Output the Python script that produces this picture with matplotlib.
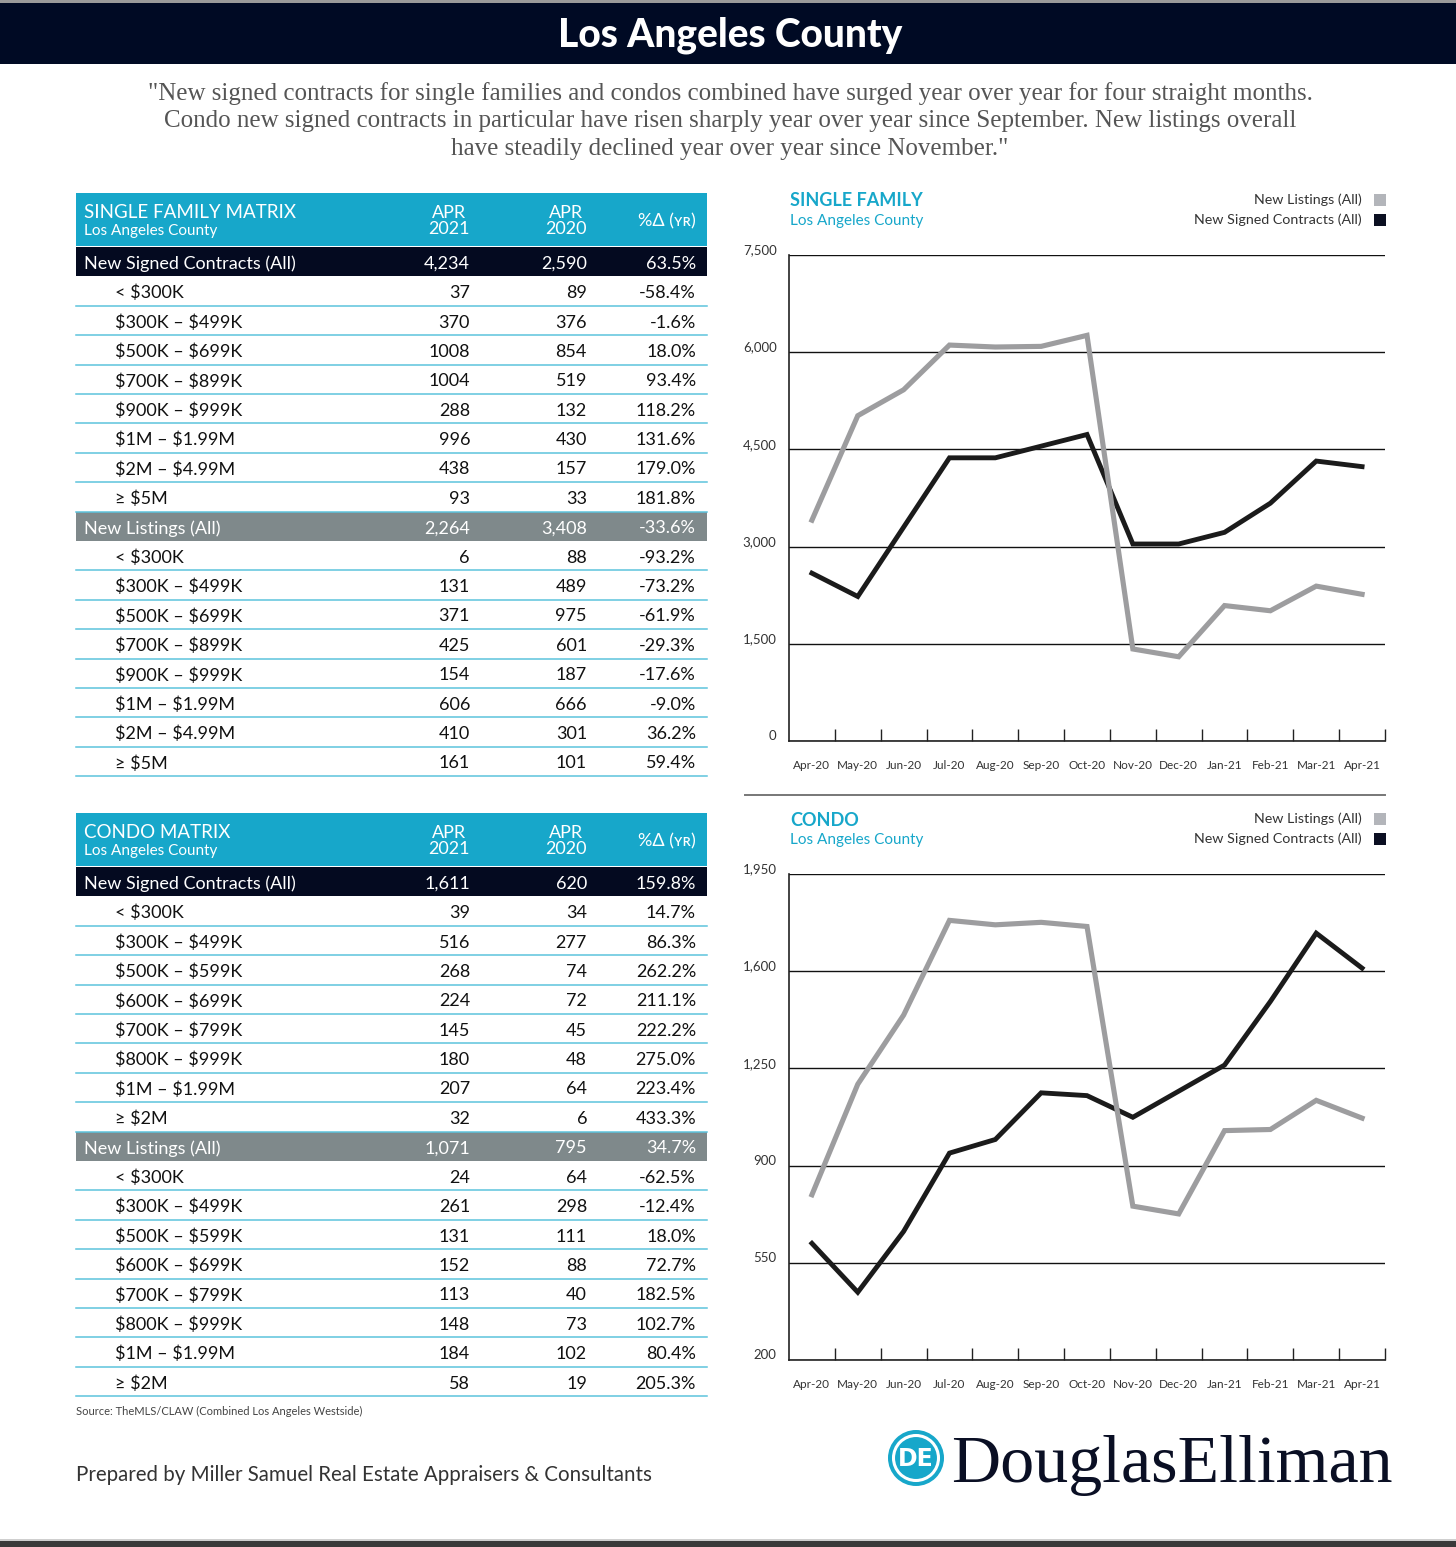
import matplotlib
matplotlib.use('Agg')
from matplotlib import pyplot as plt
import matplotlib.patches as mpatches
from matplotlib.transforms import ScaledTranslation

plt.rcParams['font.family'] = ['Lato', 'DejaVu Sans']

W, H = 1456, 1547
TEAL = '#17a7ca'
NAVY = '#040a20'
SLATE = '#7f898b'
RULE = '#5cc3dc'

# ---- chart data ----
months = ['Apr-20', 'May-20', 'Jun-20', 'Jul-20', 'Aug-20', 'Sep-20', 'Oct-20',
          'Nov-20', 'Dec-20', 'Jan-21', 'Feb-21', 'Mar-21', 'Apr-21']
sf_listings = [3408, 5020, 5420, 6110, 6080, 6090, 6260, 1420, 1300, 2090, 2010, 2390, 2264]
sf_contracts = [2590, 2230, 3300, 4370, 4370, 4550, 4730, 3040, 3040, 3220, 3670, 4320, 4234]
condo_listings = [795, 1193, 1442, 1783, 1767, 1776, 1761, 754, 726, 1026, 1030, 1135, 1071]
condo_contracts = [620, 444, 663, 945, 994, 1162, 1152, 1074, 1168, 1262, 1491, 1737, 1611]

# ---- table data ----
sf_ranges = ['< $300K', '$300K – $499K', '$500K – $699K', '$700K – $899K',
             '$900K – $999K', '$1M – $1.99M', '$2M – $4.99M', '≥ $5M']
sf_con_2021 = [37, 370, 1008, 1004, 288, 996, 438, 93]
sf_con_2020 = [89, 376, 854, 519, 132, 430, 157, 33]
sf_con_chg = ['-58.4%', '-1.6%', '18.0%', '93.4%', '118.2%', '131.6%', '179.0%', '181.8%']
sf_con_total = [4234, 2590, '63.5%']
sf_lst_2021 = [6, 131, 371, 425, 154, 606, 410, 161]
sf_lst_2020 = [88, 489, 975, 601, 187, 666, 301, 101]
sf_lst_chg = ['-93.2%', '-73.2%', '-61.9%', '-29.3%', '-17.6%', '-9.0%', '36.2%', '59.4%']
sf_lst_total = [2264, 3408, '-33.6%']

condo_ranges = ['< $300K', '$300K – $499K', '$500K – $599K', '$600K – $699K',
                '$700K – $799K', '$800K – $999K', '$1M – $1.99M', '≥ $2M']
co_con_2021 = [39, 516, 268, 224, 145, 180, 207, 32]
co_con_2020 = [34, 277, 74, 72, 45, 48, 64, 6]
co_con_chg = ['14.7%', '86.3%', '262.2%', '211.1%', '222.2%', '275.0%', '223.4%', '433.3%']
co_con_total = [1611, 620, '159.8%']
co_lst_2021 = [24, 261, 131, 152, 113, 148, 184, 58]
co_lst_2020 = [64, 298, 111, 88, 40, 73, 102, 19]
co_lst_chg = ['-62.5%', '-12.4%', '18.0%', '72.7%', '182.5%', '102.7%', '80.4%', '205.3%']
co_lst_total = [1071, 795, '34.7%']

quote = ('"New signed contracts for single families and condos combined have surged year over year for four straight months.\n'
         'Condo new signed contracts in particular have risen sharply year over year since September. New listings overall\n'
         'have steadily declined year over year since November."')


def draw_matrix(bg, top, title, ranges, con, lst):
    """Draw one matrix table, top = pixel y of the teal header"""
    x0, x1 = 76, 707
    c1, c2, c3 = 470, 587, 696
    rh = 29.4
    fs = 13
    bg.add_patch(mpatches.Rectangle((x0, top), x1 - x0, 53, color=TEAL, lw=0))
    bg.text(84, top + 19, title, color='white', fontsize=13.5, va='center')
    bg.text(84, top + 38, 'Los Angeles County', color='white', fontsize=11, va='center')
    bg.text(c1, top + 28, 'APR\n2021', color='white', fontsize=13, ha='right',
            va='center', linespacing=0.95, multialignment='center')
    bg.text(c2, top + 28, 'APR\n2020', color='white', fontsize=13, ha='right',
            va='center', linespacing=0.95, multialignment='center')
    bg.text(c3, top + 28, '%Δ (ʏʀ)', color='white', fontsize=13, ha='right', va='center')

    y = top + 54
    blocks = [('New Signed Contracts (All)', NAVY, con), ('New Listings (All)', SLATE, lst)]
    for name, colr, (v21, v20, chg, total) in blocks:
        bg.add_patch(mpatches.Rectangle((x0, y), x1 - x0, rh, color=colr, lw=0))
        cy = y + rh / 2 + 2
        bg.text(84, cy, name, color='white', fontsize=fs, va='center')
        bg.text(c1, cy, f'{total[0]:,}', color='white', fontsize=fs, ha='right', va='center')
        bg.text(c2, cy, f'{total[1]:,}', color='white', fontsize=fs, ha='right', va='center')
        bg.text(c3, cy, total[2], color='white', fontsize=fs, ha='right', va='center')
        y += rh
        for lab, a, b, c in zip(ranges, v21, v20, chg):
            cy = y + rh / 2 + 2
            bg.text(115, cy, lab, color='#111111', fontsize=fs, va='center', parse_math=False)
            bg.text(c1, cy, str(a), color='#111111', fontsize=fs, ha='right', va='center')
            bg.text(c2, cy, str(b), color='#111111', fontsize=fs, ha='right', va='center')
            bg.text(c3, cy, c, color='#111111', fontsize=fs, ha='right', va='center')
            y += rh
            bg.plot([x0, x1], [y, y], color=RULE, lw=1.1)


def draw_chart(fig, bg, top, bottom, title, listings, contracts, ymin, ymax, step):
    """Line chart for one section, top/bottom = pixel y of the plot area"""
    left, right = 789, 1385
    ax = fig.add_axes([left / W, 1 - bottom / H, (right - left) / W, (bottom - top) / H])
    x = list(range(len(months)))
    ax.plot(x, contracts, color='#1b1b1b', lw=3.5, solid_joinstyle='miter', zorder=3)
    ax.plot(x, listings, color='#9d9d9f', lw=3.7, solid_joinstyle='miter', zorder=4)
    ax.set_xlim(-0.5, len(months) - 0.5)
    ax.set_ylim(ymin, ymax)
    yt = list(range(ymin, ymax + 1, step))
    ax.set_yticks(yt)
    ax.set_yticklabels([f'{v:,}' for v in yt], fontsize=9.5, color='#333333')
    ax.tick_params(axis='y', length=0, pad=9)
    for lab in ax.get_yticklabels():
        lab.set_transform(lab.get_transform() + ScaledTranslation(0, 4 / 72, fig.dpi_scale_trans))
    ax.grid(axis='y', color='#111111', lw=1.0)
    ax.set_xticks(x)
    ax.set_xticklabels(months, fontsize=8.5, color='#333333')
    ax.set_xticks([i + 0.5 for i in x], minor=True)
    ax.tick_params(axis='x', which='major', length=0, pad=14)
    ax.tick_params(axis='x', which='minor', direction='in', length=9, width=1.0, color='#222222')
    for s in ['top', 'right']:
        ax.spines[s].set_visible(False)
    for s in ['left', 'bottom']:
        ax.spines[s].set_color('#222222')
        ax.spines[s].set_linewidth(1.2)
    ax.set_axisbelow(True)

    # titles and legend
    bg.text(790, top - 54, title, color=TEAL, fontsize=13, fontweight='bold', va='center')
    bg.text(790, top - 34, 'Los Angeles County', color=TEAL, fontsize=11, va='center')
    bg.text(1362, top - 55, 'New Listings (All)', color='#333333', fontsize=10.3, ha='right', va='center')
    bg.text(1362, top - 35, 'New Signed Contracts (All)', color='#333333', fontsize=10.3, ha='right', va='center')
    bg.add_patch(mpatches.Rectangle((1374, top - 61), 12, 12, color='#b3b5ba', lw=0))
    bg.add_patch(mpatches.Rectangle((1374, top - 41), 12, 12, color='#0b0f22', lw=0))
    return ax


def main():
    fig = plt.figure(figsize=(W / 100, H / 100), dpi=100)
    bg = fig.add_axes([0, 0, 1, 1])
    bg.set_xlim(0, W)
    bg.set_ylim(H, 0)
    bg.axis('off')

    # header band
    bg.add_patch(mpatches.Rectangle((0, 0), W, 3, color='#9a9a9a', lw=0))
    bg.add_patch(mpatches.Rectangle((0, 3), W, 61, color='#000a24', lw=0))
    bg.text(730, 35, 'Los Angeles County', color='white', fontsize=28,
            fontweight='black', ha='center', va='center')
    bg.text(730, 121, quote, color='#555555', fontsize=18, ha='center', va='center',
            family=['Liberation Serif', 'DejaVu Serif'], linespacing=1.35)

    draw_matrix(bg, 193, 'SINGLE FAMILY MATRIX', sf_ranges,
                (sf_con_2021, sf_con_2020, sf_con_chg, sf_con_total),
                (sf_lst_2021, sf_lst_2020, sf_lst_chg, sf_lst_total))
    draw_matrix(bg, 813, 'CONDO MATRIX', condo_ranges,
                (co_con_2021, co_con_2020, co_con_chg, co_con_total),
                (co_lst_2021, co_lst_2020, co_lst_chg, co_lst_total))

    draw_chart(fig, bg, 255, 741, 'SINGLE FAMILY', sf_listings, sf_contracts, 0, 7500, 1500)
    draw_chart(fig, bg, 874, 1360, 'CONDO', condo_listings, condo_contracts, 200, 1950, 350)

    # separator between sections
    bg.plot([745, 1385], [795, 795], color='#777777', lw=1.4)

    # footer
    bg.text(76, 1411, 'Source: TheMLS/CLAW (Combined Los Angeles Westside)',
            color='#444444', fontsize=8, va='center')
    bg.text(76, 1475, 'Prepared by Miller Samuel Real Estate Appraisers & Consultants',
            color='#333333', fontsize=14.8, va='center')

    # logo
    bg.add_patch(mpatches.Circle((916, 1458), 28, color=TEAL, lw=0))
    bg.add_patch(mpatches.Circle((916, 1458), 22.5, fill=False, ec='white', lw=2.2))
    bg.text(916, 1459, 'DE', color='white', fontsize=17, fontweight='bold',
            ha='center', va='center', family=['Liberation Sans Narrow', 'DejaVu Sans'])
    bg.text(951, 1482, 'DouglasElliman', color='#0a0f24', fontsize=49,
            family=['Liberation Serif', 'DejaVu Serif'], va='baseline')

    bg.add_patch(mpatches.Rectangle((0, 1539), W, 2, color='#cfcfcf', lw=0))
    bg.add_patch(mpatches.Rectangle((0, 1541), W, 6, color='#3a3a3a', lw=0))

    fig.savefig('out.png', dpi=100)


if __name__ == '__main__':
    main()
